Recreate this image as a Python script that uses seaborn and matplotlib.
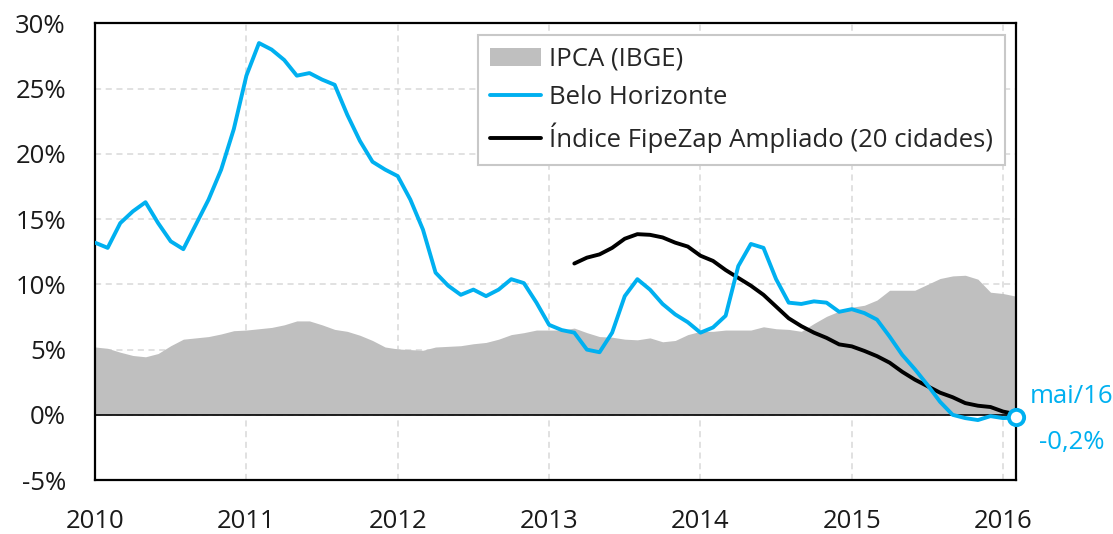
import numpy as np
import pandas as pd
import matplotlib
matplotlib.use("Agg")
import matplotlib.pyplot as plt
import seaborn as sns

# monthly series, 12-month change in %
belo_horizonte = [
    13.2, 12.8, 14.7, 15.6, 16.3, 14.7, 13.3, 12.7, 14.6, 16.5, 18.8, 21.9,
    26.0, 28.5, 28.0, 27.2, 26.0, 26.2, 25.7, 25.3, 23.0, 21.0, 19.4, 18.8,
    18.3, 16.5, 14.2, 10.9, 9.9, 9.2, 9.6, 9.1, 9.6, 10.4, 10.1, 8.6,
    6.9, 6.5, 6.3, 5.0, 4.8, 6.3, 9.1, 10.4, 9.6, 8.5, 7.7, 7.1,
    6.3, 6.7, 7.6, 11.4, 13.1, 12.8, 10.4, 8.6, 8.5, 8.7, 8.6, 7.9,
    8.1, 7.8, 7.3, 6.0, 4.6, 3.5, 2.3, 1.0, 0.0, -0.25, -0.4, -0.1,
    -0.25, -0.2,
]
fipezap = [np.nan] * 38 + [
    11.6, 12.05, 12.3, 12.8, 13.5, 13.85, 13.8, 13.6, 13.2, 12.9,
    12.2, 11.8, 11.1, 10.5, 9.9, 9.2, 8.3, 7.4, 6.8, 6.3, 5.9, 5.4,
    5.25, 4.9, 4.5, 4.0, 3.3, 2.7, 2.2, 1.7, 1.35, 0.9, 0.7, 0.6,
    0.25, 0.05,
]
ipca = [
    5.2, 5.1, 4.8, 4.55, 4.45, 4.7, 5.3, 5.8, 5.9, 6.0, 6.2, 6.45,
    6.5, 6.6, 6.7, 6.9, 7.2, 7.2, 6.9, 6.55, 6.4, 6.1, 5.7, 5.2,
    5.05, 5.0, 4.95, 5.2, 5.25, 5.3, 5.45, 5.55, 5.8, 6.15, 6.3, 6.5,
    6.5, 6.5, 6.65, 6.3, 6.0, 5.95, 5.8, 5.75, 5.9, 5.6, 5.7, 6.15,
    6.4, 6.4, 6.5, 6.5, 6.5, 6.75, 6.6, 6.55, 6.4, 7.0, 7.55, 7.95,
    8.25, 8.4, 8.8, 9.55, 9.55, 9.55, 10.0, 10.45, 10.65, 10.7, 10.4, 9.4,
    9.3, 9.1,
]
year_labels = ["2010", "2011", "2012", "2013", "2014", "2015", "2016"]
last_label = "mai/16"
last_value_label = "-0,2%"

BLUE = "#00B0F0"
GRAY = "#BFBFBF"
FS = 18.5

df = pd.DataFrame({
    "mes": np.arange(len(ipca)),
    "ipca": ipca,
    "bh": belo_horizonte,
    "fipezap": fipezap,
})

sns.set_style("white")
plt.rcParams["font.family"] = ["Open Sans", "DejaVu Sans"]

fig = plt.figure(figsize=(11.13, 5.34), dpi=100)
ax = fig.add_axes([0.0854, 0.101, 0.8272, 0.855])

ax.fill_between(df["mes"], 0, df["ipca"], color=GRAY, linewidth=0,
                label="IPCA (IBGE)", zorder=1)
sns.lineplot(data=df, x="mes", y="bh", color=BLUE, linewidth=2.8,
             label="Belo Horizonte", ax=ax, zorder=3)
sns.lineplot(data=df, x="mes", y="fipezap", color="black", linewidth=2.8,
             label="Índice FipeZap Ampliado (20 cidades)", ax=ax, zorder=2)
for ln in ax.get_lines():
    ln.set_solid_joinstyle("round")
    ln.set_solid_capstyle("round")

# end marker for Belo Horizonte
last = df.iloc[-1]
ax.plot(last["mes"], last["bh"], marker="o", markersize=11,
        markerfacecolor="white", markeredgecolor=BLUE, markeredgewidth=2.8,
        clip_on=False, zorder=5)
ax.annotate(last_label, xy=(last["mes"], last["bh"]),
            xytext=(40, 15), textcoords="offset points", ha="center",
            va="center", color=BLUE, fontsize=FS, annotation_clip=False)
ax.annotate(last_value_label, xy=(last["mes"], last["bh"]),
            xytext=(40, -18), textcoords="offset points", ha="center",
            va="center", color=BLUE, fontsize=FS, annotation_clip=False)

ax.axhline(0, color="black", linewidth=1.2, zorder=2)

ax.set_xlim(0, len(ipca) - 1)
ax.set_ylim(-5, 30)
ax.set_yticks(np.arange(-5, 31, 5))
ax.set_yticklabels([f"{v}%" for v in range(-5, 31, 5)])
ax.set_xticks(np.arange(0, 12 * len(year_labels), 12))
ax.set_xticklabels(year_labels)
ax.tick_params(axis="both", labelsize=FS, length=0, colors="#1a1a1a")
ax.tick_params(axis="x", pad=21)
ax.tick_params(axis="y", pad=21)
ax.set_xlabel("")
ax.set_ylabel("")

ax.grid(True, color="#D9D9D9", linestyle=(0, (4, 3)), linewidth=1.1)
ax.set_axisbelow(True)
for s in ax.spines.values():
    s.set_color("black")
    s.set_linewidth(1.6)

leg = ax.legend(loc="upper right", bbox_to_anchor=(0.988, 0.974), fontsize=FS,
                frameon=True, fancybox=False, handlelength=2.0,
                handletextpad=0.3, borderpad=0.45, labelspacing=0.5,
                borderaxespad=0)
leg.get_frame().set_edgecolor("#C8C8C8")
leg.get_frame().set_linewidth(1.5)
leg.get_frame().set_alpha(1)

fig.savefig("out.png", dpi=100)
